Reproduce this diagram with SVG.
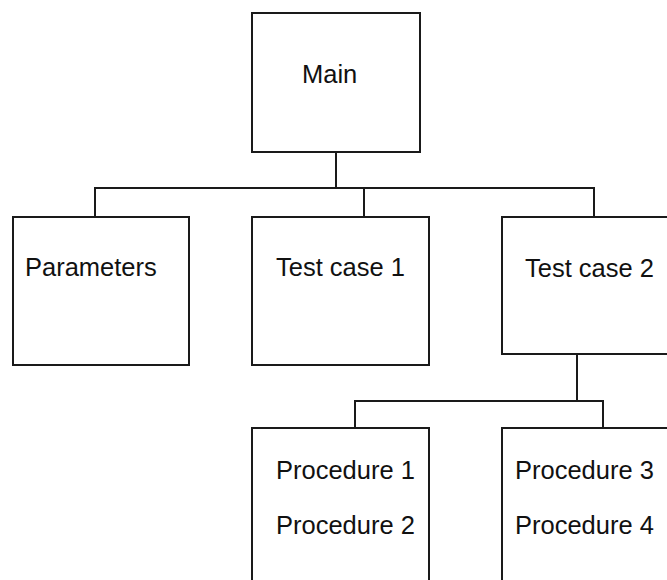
<svg xmlns="http://www.w3.org/2000/svg" width="667" height="580" viewBox="0 0 667 580">
<style>
.box{fill:#fff;stroke:#1a1a1a;stroke-width:2}
.lbl{font-family:"Liberation Sans",Arial,sans-serif;font-size:25.5px;fill:#111}
.conn{fill:none;stroke:#1a1a1a;stroke-width:2}
</style>
<rect width="667" height="580" fill="#fff"/>
<g id="connectors">
<path class="conn" d="M336,152V188M95,217V188H594V217M364,188V217"/>
<path class="conn" d="M577,354V401M355,428V401H603V428"/>
</g>
<g id="main"><rect class="box" x="252" y="13" width="168" height="139"/><text class="lbl" x="302" y="83">Main</text></g>
<g id="parameters"><rect class="box" x="13" y="217" width="176" height="148"/><text class="lbl" x="25" y="276">Parameters</text></g>
<g id="testcase1"><rect class="box" x="252" y="217" width="177" height="148"/><text class="lbl" x="276" y="276">Test case 1</text></g>
<g id="testcase2"><rect class="box" x="502" y="217" width="177" height="137"/><text class="lbl" x="525" y="277">Test case 2</text></g>
<g id="proc12"><rect class="box" x="252" y="428" width="177" height="170"/><text class="lbl" x="276" y="479">Procedure 1</text><text class="lbl" x="276" y="534">Procedure 2</text></g>
<g id="proc34"><rect class="box" x="502" y="428" width="177" height="170"/><text class="lbl" x="515" y="479">Procedure 3</text><text class="lbl" x="515" y="534">Procedure 4</text></g>
</svg>
